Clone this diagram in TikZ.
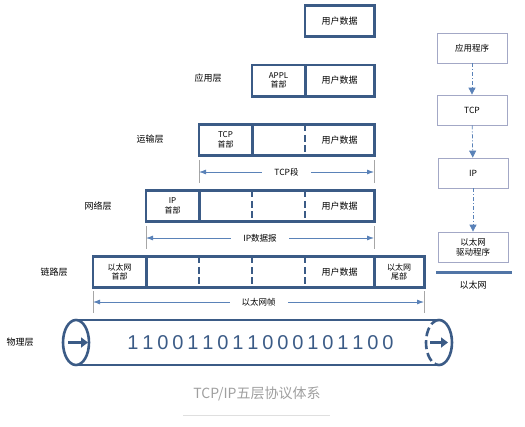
\documentclass[tikz,border=0pt]{standalone}
\usepackage{fontspec}
\setmainfont{Noto Sans CJK SC}
\newfontfamily\bitfont{Liberation Sans}
\usetikzlibrary{arrows.meta}
\definecolor{pktblue}{HTML}{3B5B86}
\definecolor{dimblue}{HTML}{5A82B8}
\definecolor{boxgray}{HTML}{A3A8C6}
\tikzset{
  cell/.style={minimum width=53pt, minimum height=31pt, inner sep=0pt, align=center,
    font=\fontsize{8}{9.5}\selectfont},
  datacell/.style={cell, minimum width=69pt, font=\fontsize{9}{10}\selectfont},
  frame/.style={draw=pktblue, line width=2.6pt},
  divider/.style={draw=pktblue, line width=2.2pt, dash pattern=on 7pt off 3.5pt},
  layer/.style={font=\fontsize{9}{10}\selectfont},
  dimline/.style={draw=dimblue, line width=0.8pt,
    {Latex[length=7pt,width=5pt]}-{Latex[length=7pt,width=5pt]}},
  dimtext/.style={fill=white, inner xsep=12pt, font=\fontsize{8.5}{10}\selectfont},
  tick/.style={draw=gray!70, line width=0.6pt},
  stackbox/.style={draw=boxgray, line width=0.8pt, minimum width=70pt, minimum height=30pt,
    align=center, font=\fontsize{8.5}{10}\selectfont},
  flow/.style={draw=dimblue, line width=0.8pt, dash pattern=on 4pt off 2pt on 1pt off 2pt,
    -{Triangle[length=7pt,width=7pt]}},
  bits/.style={text=pktblue, font=\bitfont\fontsize{20}{22}\selectfont},
}
\begin{document}
\begin{tikzpicture}[x=1pt, y=-1pt]
\useasboundingbox (0,0) rectangle (525,426);

% layer names
\node[layer] (lapp) at (208,78) {应用层};
\node[layer] (ltrans) at (150,139) {运输层};
\node[layer] (lnet) at (98,206) {网络层};
\node[layer] (llink) at (54,272) {链路层};
\node[layer] (lphy) at (20,342) {物理层};

% user data
\node[datacell] (d0) at (339.5,21) {用户数据};
\draw[frame] (d0.north west) rectangle (d0.south east);

% application
\node[cell] (a1) at (278.5,80.5) {APPL\\首部};
\node[datacell] (d1) at (339.5,80.5) {用户数据};
\draw[frame] (a1.north west) rectangle (d1.south east);
\draw[frame] (a1.north east) -- (a1.south east);

% transport
\node[cell] (t2) at (225.5,140) {TCP\\首部};
\node[cell] (e2) at (278.5,140) {};
\node[datacell] (d2) at (339.5,140) {用户数据};
\draw[frame] (t2.north west) rectangle (d2.south east);
\draw[frame] (t2.north east) -- (t2.south east);
\draw[divider] (e2.north east) -- (e2.south east);

\coordinate (tcpL) at (199,172);
\coordinate (tcpR) at (374,172);
\draw[tick] (199,160) -- (199,183);
\draw[tick] (374,160) -- (374,183);
\draw[dimline] (tcpL) -- (tcpR) node[midway, dimtext] {TCP段};

% network
\node[cell] (h3) at (172.5,206) {IP\\首部};
\node[cell] (e3a) at (225.5,206) {};
\node[cell] (e3b) at (278.5,206) {};
\node[datacell] (d3) at (339.5,206) {用户数据};
\draw[frame] (h3.north west) rectangle (d3.south east);
\draw[frame] (h3.north east) -- (h3.south east);
\draw[divider] (e3a.north east) -- (e3a.south east);
\draw[divider] (e3b.north east) -- (e3b.south east);

\coordinate (ipL) at (146,238);
\coordinate (ipR) at (374,238);
\draw[tick] (146,226) -- (146,249);
\draw[tick] (374,226) -- (374,249);
\draw[dimline] (ipL) -- (ipR) node[midway, dimtext] {IP数据报};

% link
\node[cell] (h4) at (119.5,272) {以太网\\首部};
\node[cell] (e4a) at (172.5,272) {};
\node[cell] (e4b) at (225.5,272) {};
\node[cell] (e4c) at (278.5,272) {};
\node[datacell] (d4) at (339.5,272) {用户数据};
\node[cell, minimum width=50pt] (f4) at (399,272) {以太网\\尾部};
\draw[frame] (h4.north west) rectangle (f4.south east);
\draw[frame] (h4.north east) -- (h4.south east);
\draw[divider] (e4a.north east) -- (e4a.south east);
\draw[divider] (e4b.north east) -- (e4b.south east);
\draw[divider] (e4c.north east) -- (e4c.south east);
\draw[frame] (d4.north east) -- (d4.south east);

\coordinate (ethL) at (93,302);
\coordinate (ethR) at (424,302);
\draw[tick] (93,291) -- (93,313);
\draw[tick] (424,291) -- (424,313);
\draw[dimline] (ethL) -- (ethR) node[midway, dimtext] {以太网帧};

% physical
\draw[frame] (76,320) -- (439,320);
\draw[frame] (76,365) -- (439,365);
\draw[frame, fill=white] (76,342.5) ellipse [x radius=13pt, y radius=22.5pt];
\draw[frame] (439,320) arc[start angle=90, end angle=-90, x radius=13pt, y radius=22.5pt];
\draw[frame, dash pattern=on 9pt off 4pt] (439,320) arc[start angle=90, end angle=270, x radius=13pt, y radius=22.5pt];
\draw[pktblue, line width=3pt, -{Triangle[length=7pt,width=10pt]}] (68,342.5) -- (88,342.5);
\draw[pktblue, line width=3pt, -{Triangle[length=7pt,width=10pt]}] (430,342.5) -- (448,342.5);
\foreach \b [count=\i] in {1,1,0,0,1,1,0,1,1,0,0,0,1,0,1,1,0,0}
  \node[bits] (bit\i) at (118+15*\i,343) {\b};

% protocol stack
\node[stackbox] (app) at (472,48) {应用程序};
\node[stackbox] (tcp) at (472,110) {TCP};
\node[stackbox] (ip) at (473,173) {IP};
\node[stackbox] (drv) at (473,247) {以太网\\驱动程序};
\draw[flow] (app) -- (tcp);
\draw[flow] (tcp) -- (ip);
\draw[flow] (ip) -- (drv);
\draw[draw=dimblue!90!black, line width=3pt] (436,272) -- (512,272);
\node[layer] (eth) at (473,285) {以太网};

% caption
\node[text=gray!75, font=\fontsize{14}{16}\selectfont] (cap) at (257,394) {TCP/IP五层协议体系};
\draw[gray!25, line width=1pt] (183,415) -- (330,415);
\end{tikzpicture}
\end{document}
